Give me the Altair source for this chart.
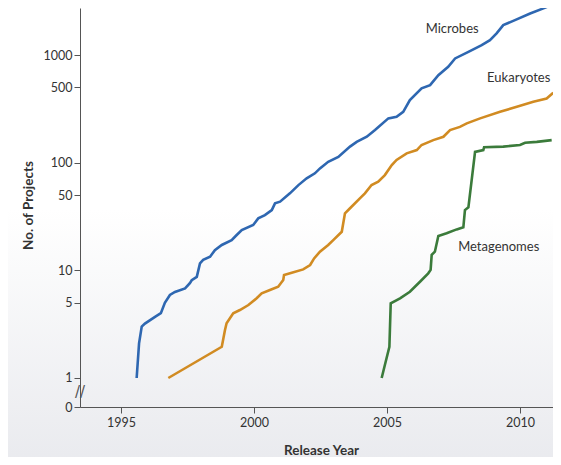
import altair as alt
import pandas as pd

# ---- data ----
microbes_year = [1995.59, 1995.68, 1995.78, 1995.90, 1996.28, 1996.50, 1996.65, 1996.84, 1997.03, 1997.41,
                 1997.59, 1997.66, 1997.85, 1997.97, 1998.09, 1998.35, 1998.53, 1998.79, 1999.16, 1999.35,
                 1999.54, 1999.97, 2000.16, 2000.41, 2000.67, 2000.79, 2000.98, 2001.35, 2001.67, 2001.98,
                 2002.29, 2002.48, 2002.79, 2003.17, 2003.61, 2003.86, 2004.24, 2004.55, 2005.05, 2005.36,
                 2005.61, 2005.86, 2006.30, 2006.62, 2006.93, 2007.30, 2007.56, 2008.06, 2008.56, 2008.87,
                 2009.12, 2009.37, 2009.81, 2010.38, 2010.88, 2011.25]
microbes_count = [1, 2.1, 3.0, 3.2, 3.7, 4.0, 5.0, 5.9, 6.3, 6.8,
                  7.6, 8.1, 8.7, 11.6, 12.5, 13.4, 15.4, 17.2, 19.1, 21.3,
                  23.7, 26.4, 30.4, 32.6, 36.3, 41.9, 43.4, 51.9, 61.9, 71.5,
                  79.6, 88.5, 102, 113, 141, 156, 174, 201, 258, 267,
                  297, 381, 490, 525, 650, 777, 929, 1071, 1236, 1375,
                  1587, 1897, 2109, 2433, 2710, 2970]

eukaryotes_year = [1996.78, 1998.79, 1998.91, 1998.97, 1999.22, 1999.47, 1999.79, 2000.10, 2000.29, 2000.60,
                   2000.91, 2001.10, 2001.13, 2001.42, 2001.85, 2002.11, 2002.26, 2002.48, 2002.79, 2002.98,
                   2003.30, 2003.42, 2003.61, 2003.98, 2004.17, 2004.42, 2004.67, 2004.92, 2005.18, 2005.36,
                   2005.74, 2006.12, 2006.30, 2006.74, 2007.12, 2007.37, 2007.74, 2008.00, 2008.50, 2009.25,
                   2009.88, 2010.50, 2011.00, 2011.25]
eukaryotes_count = [1, 1.95, 2.79, 3.22, 3.99, 4.28, 4.76, 5.50, 6.11, 6.56,
                    7.04, 8.13, 9.04, 9.50, 10.2, 11.2, 12.9, 14.9, 17.2, 19.1,
                    22.8, 33.8, 37.7, 46.6, 51.9, 62.0, 66.5, 76.7, 95.0, 106,
                    122, 131, 146, 162, 174, 201, 215, 232, 258, 297,
                    330, 368, 395, 446]

metagenomes_year = [2004.80, 2004.92, 2005.09, 2005.14, 2005.49, 2005.86, 2006.24, 2006.55, 2006.64, 2006.68,
                    2006.80, 2006.93, 2007.24, 2007.62, 2007.87, 2007.93, 2008.06, 2008.31, 2008.62, 2008.65,
                    2009.37, 2010.00, 2010.19, 2010.63, 2011.19]
metagenomes_count = [1, 1.32, 1.95, 4.94, 5.50, 6.33, 7.84, 9.38, 10.1, 13.9,
                     14.9, 20.8, 22.1, 24.0, 25.1, 36.3, 38.5, 126, 131, 139,
                     141, 146, 153, 156, 162]

series_names = ["Microbes", "Eukaryotes", "Metagenomes"]
series_colors = ["#2e67b1", "#d18b22", "#3b7b3b"]

label_year = [2007.45, 2009.95, 2009.2]
label_count = [1760, 611, 16.5]

x_ticks = [1995, 2000, 2005, 2010]
y_floor = 0.5378  # axis bottom, labelled "0" (axis break)
y_top = 2733
y_ticks = [y_floor, 1, 5, 10, 50, 100, 500, 1000]

# ---- tables ----
rows = []
for name, ys, cs in zip(series_names,
                        [microbes_year, eukaryotes_year, metagenomes_year],
                        [microbes_count, eukaryotes_count, metagenomes_count]):
    rows += [{"series": name, "year": y, "count": c} for y, c in zip(ys, cs)]
df = pd.DataFrame(rows)
labels_df = pd.DataFrame({"series": series_names, "year": label_year, "count": label_count})
break_df = pd.DataFrame({"year": [1993.46], "count": [0.74], "t": ["//"]})

W, H = 473, 399
FONT = "Lato"
x_scale = alt.Scale(domain=[1993.46, 2011.24], nice=False, zero=False)
y_scale = alt.Scale(type="log", domain=[y_floor, y_top], nice=False)

bg = alt.Chart(pd.DataFrame({"a": [0]})).mark_rect(
    clip=False,
    color=alt.LinearGradient(
        gradient="linear",
        stops=[alt.GradientStop(offset=0, color="#ffffff"),
               alt.GradientStop(offset=0.45, color="#ffffff"),
               alt.GradientStop(offset=1, color="#e9eaee")],
        x1=0, y1=0, x2=0, y2=1),
).encode(x=alt.value(-80), x2=alt.value(W + 20), y=alt.value(-10), y2=alt.value(H + 60))

lines = alt.Chart(df).mark_line(strokeWidth=2.6, clip=False).encode(
    x=alt.X("year:Q", scale=x_scale,
            axis=alt.Axis(values=x_ticks, format="d", title="Release Year", zindex=1,
                          grid=False, tickSize=6, labelPadding=3, labelFontSize=12.5,
                          labelFont=FONT, labelColor="#333", titleFont=FONT, titleFontSize=13.5,
                          titleFontWeight="bold", titleColor="#333", titleY=43, titleX=241,
                          titleBaseline="middle", domainColor="#555", tickColor="#555")),
    y=alt.Y("count:Q", scale=y_scale,
            axis=alt.Axis(values=y_ticks, zindex=1,
                          labelExpr="datum.value < 0.9 ? '0' : format(datum.value, 'd')",
                          title="No. of Projects", grid=False, tickSize=6, labelPadding=2,
                          labelFontSize=12.5, labelFont=FONT, labelColor="#333",
                          titleFont=FONT, titleFontSize=13.5, titleFontWeight="bold",
                          titleColor="#333", titleX=-52, titleY=197, titleAngle=-90,
                          titleBaseline="middle", titleAlign="center",
                          domainColor="#555", tickColor="#555")),
    color=alt.Color("series:N", scale=alt.Scale(domain=series_names, range=series_colors), legend=None),
)

text = alt.Chart(labels_df).mark_text(font=FONT, fontSize=13, color="#333", align="center",
                                      baseline="middle").encode(
    x=alt.X("year:Q", scale=x_scale), y=alt.Y("count:Q", scale=y_scale), text="series:N")

brk = alt.Chart(break_df).mark_text(font="DejaVu Sans", fontSize=15, color="#555", align="center",
                                    baseline="middle", clip=False).encode(
    x=alt.X("year:Q", scale=x_scale), y=alt.Y("count:Q", scale=y_scale), text="t:N")

chart = alt.layer(bg, lines, text, brk).properties(
    width=W, height=H,
    autosize=alt.AutoSizeParams(type="none"),
    padding={"left": 72, "top": 0, "right": 0, "bottom": 50},
    background="#ffffff",
).configure_view(stroke=None)

chart.save("out.html", embed_options={"renderer": "svg", "actions": False})
